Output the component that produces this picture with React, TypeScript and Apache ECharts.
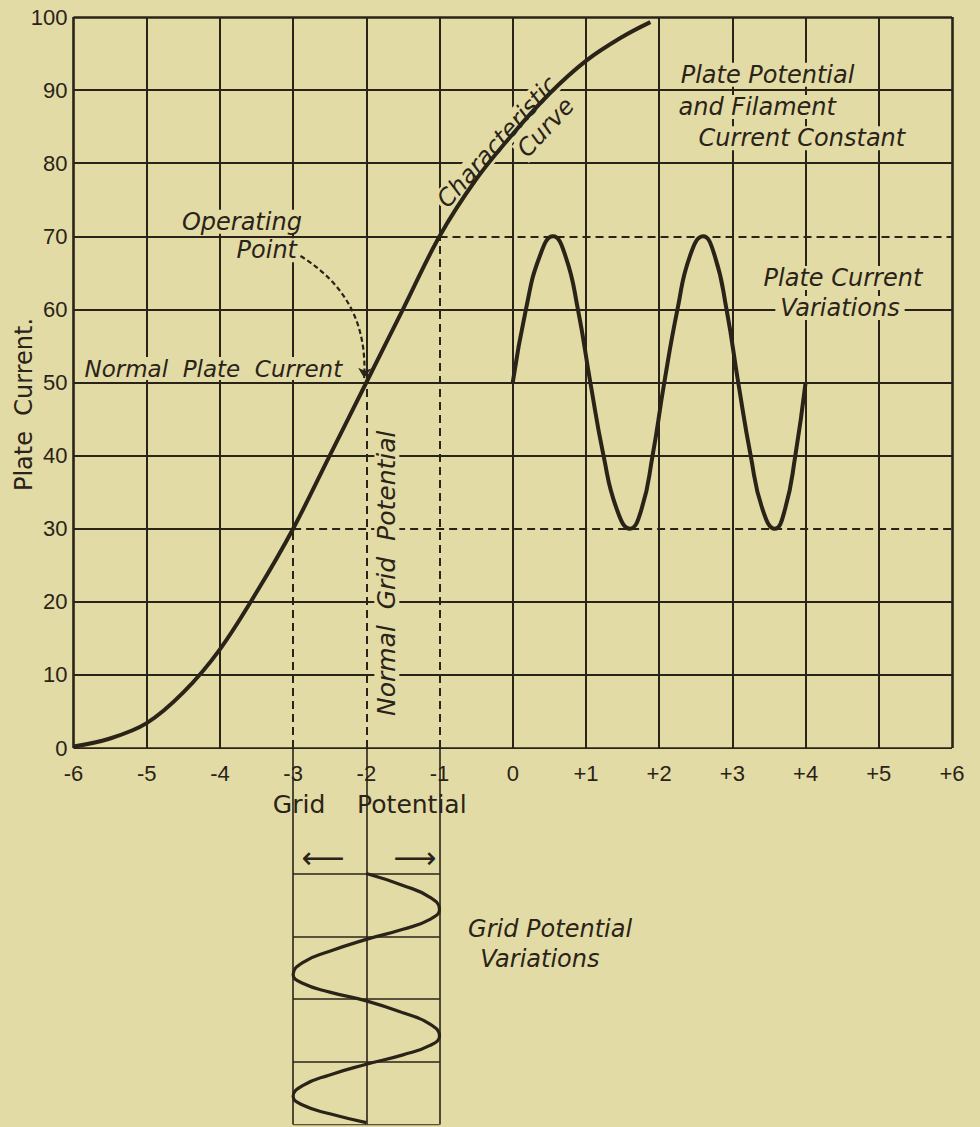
import React, { useEffect, useRef } from "react";
import * as echarts from "echarts";

// ---------- data ----------
const gridPotentialTicks = [-6, -5, -4, -3, -2, -1, 0, 1, 2, 3, 4, 5, 6];
const gridPotentialLabels = ["-6", "-5", "-4", "-3", "-2", "-1", "0", "+1", "+2", "+3", "+4", "+5", "+6"];
const plateCurrentTicks = [0, 10, 20, 30, 40, 50, 60, 70, 80, 90, 100];

// characteristic curve (grid potential -> plate current)
const characteristicGrid = [-6, -5.5, -5, -4.5, -4, -3.5, -3, -2.5, -2, -1.5, -1, -0.5, 0, 0.5, 1, 1.5, 1.88];
const characteristicPlate = [0.2, 1.3, 3.4, 7.6, 13.5, 21.3, 30, 40, 50, 60, 70, 77.8, 84, 89.5, 94, 97.3, 99.3];

// plate current variations (drawn along the grid-potential axis from 0 to +4)
const plateVarX = [0, 0.18, 0.37, 0.55, 0.72, 0.89, 1.06, 1.24, 1.42, 1.6, 1.76, 1.91, 2.07, 2.25, 2.42, 2.6, 2.76, 2.92, 3.08, 3.25, 3.41, 3.58, 3.72, 3.86, 4.0];
const plateVarCurrent = [50, 60, 67.3, 70, 67.3, 60, 50, 40, 32.7, 30, 32.7, 40, 50, 60, 67.3, 70, 67.3, 60, 50, 40, 32.7, 30, 32.7, 40, 50];

// grid potential variations (time runs downward)
const gridVarTime = [0, 0.19, 0.38, 0.57, 0.73, 0.89, 1.05, 1.24, 1.42, 1.61, 1.75, 1.89, 2.03, 2.22, 2.4, 2.59, 2.74, 2.89, 3.04, 3.21, 3.38, 3.55, 3.69, 3.83, 3.97];
const gridVarPotential = [-2, -1.5, -1.13, -1, -1.13, -1.5, -2, -2.5, -2.87, -3, -2.87, -2.5, -2, -1.5, -1.13, -1, -1.13, -1.5, -2, -2.5, -2.87, -3, -2.87, -2.5, -2];
const gridVarTimeMarks = [0, 1, 2, 3, 4];

// operating point and swing
const normalGrid = -2;
const normalPlate = 50;
const swingGrid = [-3, -1];
const swingPlate = [30, 70];

// ---------- style ----------
const PAPER = "#e2dba5";
const INK = "#2a2318";
const NOTE_FONT = "'DejaVu Sans', 'Liberation Sans', sans-serif";
const TICK_FONT = "'Liberation Sans', 'DejaVu Sans', sans-serif";

function buildOption() {
  const xMin = gridPotentialTicks[0];
  const xMax = gridPotentialTicks[gridPotentialTicks.length - 1];
  const yMin = plateCurrentTicks[0];
  const yMax = plateCurrentTicks[plateCurrentTicks.length - 1];

  const opPoints = [
    [swingGrid[0], swingPlate[0]],
    [normalGrid, normalPlate],
    [swingGrid[1], swingPlate[1]],
  ];
  const swingPoints = [
    [swingGrid[0], swingPlate[0]],
    [swingGrid[1], swingPlate[1]],
  ];

  const solid: any[] = [];
  const dashed: any[] = [];
  gridPotentialTicks.forEach((x) => {
    const w = x === xMin || x === xMax ? 2.6 : 2;
    const d = opPoints.find((p) => p[0] === x);
    if (d) {
      solid.push({ coords: [[x, d[1]], [x, yMax]], lineStyle: { width: w } });
      dashed.push({ coords: [[x, yMin], [x, d[1]]] });
    } else {
      solid.push({ coords: [[x, yMin], [x, yMax]], lineStyle: { width: w } });
    }
  });
  plateCurrentTicks.forEach((y) => {
    const w = y === yMin || y === yMax ? 2.6 : 2;
    const d = swingPoints.find((p) => p[1] === y);
    if (d) {
      solid.push({ coords: [[xMin, y], [d[0], y]], lineStyle: { width: w } });
      dashed.push({ coords: [[d[0], y], [xMax, y]] });
    } else {
      solid.push({ coords: [[xMin, y], [xMax, y]], lineStyle: { width: w } });
    }
  });

  // lower box
  const boxLines: any[] = [];
  [swingGrid[0], normalGrid, swingGrid[1]].forEach((x) => {
    boxLines.push({ coords: [[x, -2], [x, 4]] });
  });
  gridVarTimeMarks.forEach((t) => {
    boxLines.push({ coords: [[swingGrid[0], t], [swingGrid[1], t]] });
  });

  const note = (x: number, y: number, text: string, extra: any = {}) => ({
    value: [x, y],
    label: {
      show: true,
      position: "inside",
      formatter: text,
      fontFamily: NOTE_FONT,
      fontStyle: "italic",
      fontSize: 24,
      color: INK,
      opacity: 1,
      textBorderWidth: 0,
      backgroundColor: PAPER,
      padding: [0, 5],
      ...extra,
    },
  });

  const notesMain = [
    note(-0.21, 82.9, "Characteristic", { rotate: 48, padding: [0, 2] }),
    note(0.45, 84.9, "Curve", { rotate: 47, padding: [0, 2] }),
    note(-3.7, 72.0, "Operating"),
    note(-3.36, 68.1, "Point"),
    note(-4.09, 51.9, "Normal  Plate  Current", { fontSize: 23 }),
    note(-1.72, 23.9, "Normal  Grid  Potential", { rotate: 90, fontSize: 25 }),
    note(3.48, 92.1, "Plate Potential"),
    note(3.34, 87.7, "and Filament"),
    note(3.95, 83.4, "Current Constant"),
    note(4.51, 64.3, "Plate Current"),
    note(4.47, 60.2, "Variations"),
  ];
  const notesLow = [
    note(0.51, 0.89, "Grid Potential", { backgroundColor: "transparent" }),
    note(0.37, 1.37, "Variations", { backgroundColor: "transparent" }),
    note(-2.59, -0.25, "⟵", { fontStyle: "normal", fontSize: 30, backgroundColor: "transparent" }),
    note(-1.34, -0.25, "⟶", { fontStyle: "normal", fontSize: 30, backgroundColor: "transparent" }),
  ];

  return {
    animation: false,
    backgroundColor: PAPER,
    grid: [
      { left: 73.5, top: 17, width: 878.5, height: 731, containLabel: false, outerBoundsMode: "none" },
      { left: 73.5, top: 748, width: 878.5, height: 376.5, containLabel: false, outerBoundsMode: "none" },
    ],
    xAxis: [
      {
        type: "value",
        gridIndex: 0,
        min: xMin,
        max: xMax,
        interval: 1,
        axisLine: { show: false },
        axisTick: { show: false },
        splitLine: { show: false },
        axisLabel: {
          show: true,
          showMinLabel: true,
          showMaxLabel: true,
          margin: 14,
          fontSize: 22,
          fontFamily: TICK_FONT,
          color: INK,
          formatter: (v: number) => gridPotentialLabels[gridPotentialTicks.indexOf(Math.round(v))] ?? "",
        },
        name: "Grid    Potential",
        nameLocation: "middle",
        nameGap: 44,
        nameTextStyle: {
          fontSize: 25,
          fontFamily: NOTE_FONT,
          color: INK,
          padding: [0, 286, 0, 0],
        },
      },
      { type: "value", gridIndex: 1, min: xMin, max: xMax, show: false },
    ],
    yAxis: [
      {
        type: "value",
        gridIndex: 0,
        min: yMin,
        max: yMax,
        interval: 10,
        axisLine: { show: false },
        axisTick: { show: false },
        splitLine: { show: false },
        axisLabel: {
          show: true,
          margin: 6,
          fontSize: 22,
          fontFamily: TICK_FONT,
          color: INK,
        },
        name: "Plate  Current.",
        nameLocation: "middle",
        nameGap: 38,
        nameMoveOverlap: false,
        nameTextStyle: {
          fontSize: 24,
          fontFamily: NOTE_FONT,
          color: INK,
          padding: [0, 44, 0, 0],
        },
      },
      { type: "value", gridIndex: 1, min: -2, max: 4, inverse: true, show: false },
    ],
    series: [
      {
        type: "lines",
        coordinateSystem: "cartesian2d",
        xAxisIndex: 0,
        yAxisIndex: 0,
        z: 1,
        silent: true,
        symbol: "none",
        lineStyle: { color: INK, width: 2, opacity: 1, type: "solid" },
        data: solid,
      },
      {
        type: "lines",
        coordinateSystem: "cartesian2d",
        xAxisIndex: 0,
        yAxisIndex: 0,
        z: 1,
        silent: true,
        symbol: "none",
        lineStyle: { color: INK, width: 2, opacity: 1, type: [8, 5] },
        data: dashed,
      },
      {
        type: "lines",
        coordinateSystem: "cartesian2d",
        xAxisIndex: 1,
        yAxisIndex: 1,
        z: 1,
        silent: true,
        symbol: "none",
        lineStyle: { color: INK, width: 1.6, opacity: 1, type: "solid" },
        data: boxLines,
      },
      {
        type: "scatter",
        xAxisIndex: 0,
        yAxisIndex: 0,
        z: 3,
        silent: true,
        symbolSize: 1,
        itemStyle: { color: "transparent", opacity: 1 },
        data: notesMain,
      },
      {
        type: "scatter",
        xAxisIndex: 1,
        yAxisIndex: 1,
        z: 3,
        silent: true,
        symbolSize: 1,
        itemStyle: { color: "transparent", opacity: 1 },
        data: notesLow,
      },
      {
        type: "lines",
        coordinateSystem: "cartesian2d",
        xAxisIndex: 0,
        yAxisIndex: 0,
        z: 4,
        silent: true,
        symbol: ["none", "arrow"],
        symbolSize: 10,
        lineStyle: { color: INK, width: 2.2, opacity: 1, type: [5, 3], curveness: 0.3 },
        data: [{ coords: [[-2.9, 67.3], [normalGrid - 0.03, normalPlate + 0.6]] }],
      },
      {
        name: "Characteristic Curve",
        type: "line",
        xAxisIndex: 0,
        yAxisIndex: 0,
        z: 5,
        smooth: 0.35,
        showSymbol: false,
        lineStyle: { color: INK, width: 4 },
        data: characteristicGrid.map((g, i) => [g, characteristicPlate[i]]),
      },
      {
        name: "Plate Current Variations",
        type: "line",
        xAxisIndex: 0,
        yAxisIndex: 0,
        z: 5,
        smooth: 0.5,
        showSymbol: false,
        lineStyle: { color: INK, width: 4 },
        data: plateVarX.map((g, i) => [g, plateVarCurrent[i]]),
      },
      {
        name: "Grid Potential Variations",
        type: "line",
        xAxisIndex: 1,
        yAxisIndex: 1,
        z: 5,
        smooth: 0.5,
        showSymbol: false,
        lineStyle: { color: INK, width: 3.2 },
        data: gridVarTime.map((t, i) => [gridVarPotential[i], t]),
      },
    ],
  };
}

export default function App() {
  const ref = useRef<HTMLDivElement>(null);
  useEffect(() => {
    const chart = echarts.init(ref.current!, null, { renderer: "svg" });
    chart.setOption(buildOption() as any);
    return () => chart.dispose();
  }, []);
  return (
    <div
      ref={ref}
      style={{ position: "fixed", left: 0, top: 0, width: 980, height: 1127, background: PAPER }}
    />
  );
}
